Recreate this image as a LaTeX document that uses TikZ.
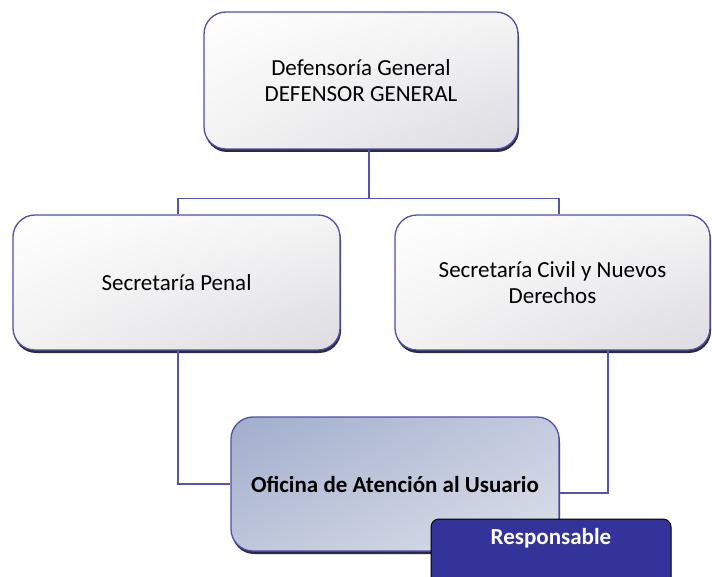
\documentclass[tikz,border=0pt]{standalone}
\usepackage{fontspec}
\setmainfont{Carlito}
\usetikzlibrary{shadows,shadings}

\definecolor{borde}{HTML}{4F4FAE}
\definecolor{linea}{HTML}{5454B4}
\definecolor{sombra}{HTML}{15152A}
\definecolor{resp}{HTML}{333399}

\begin{document}
\begin{tikzpicture}[
			x = 1pt, y = -1pt,
			caja/.style = {draw = borde, line width = 1.3pt, rounded corners = 22pt,
				align = center, font = \fontsize{23}{26}\selectfont,
				upper left = white, upper right = black!4!white,
				lower left = black!5!white, lower right = blue!18!black!14!white,
				drop shadow = {shadow xshift = 1pt, shadow yshift = -3pt, fill = sombra, opacity = .9}},
			oficina/.style = {caja, upper left = {rgb,255:red,160;green,173;blue,204},
				upper right = {rgb,255:red,196;green,203;blue,222},
				lower left = {rgb,255:red,190;green,198;blue,218},
				lower right = {rgb,255:red,220;green,224;blue,234},
				font = \fontsize{23}{26}\bfseries},
			etiqueta/.style = {draw = black, line width = 1pt, rounded corners = 8pt, fill = resp},
			conector/.style = {draw = linea, line width = 1.2pt}
			]

			\useasboundingbox (0,0) rectangle (712,577);

			% cajas
			\node[caja, minimum width = 314pt, minimum height = 137pt] (defensor) at (361,80.5)
				{Defensoría General\\DEFENSOR GENERAL};
			\node[caja, minimum width = 327pt, minimum height = 135pt] (penal) at (176.5,282.5)
				{Secretaría Penal};
			\node[caja, minimum width = 315pt, minimum height = 135pt] (civil) at (552.5,282.5)
				{Secretaría Civil y Nuevos\\Derechos};
			\node[oficina, minimum width = 328pt, minimum height = 134pt] (atencion) at (395,484)
				{Oficina de Atención al Usuario};

			% conectores
			\draw[conector] ([xshift = 8pt]defensor.south) -- ++(0,49) coordinate (bus);
			\draw[conector] ([xshift = 1.5pt]penal.north) |- (bus) -| ([xshift = 6.5pt]civil.north);
			\draw[conector] ([xshift = 1.5pt]penal.south) |- (atencion.west);
			\draw[conector] ([xshift = 55.5pt]civil.south) |- ([yshift = -9pt]atencion.east);

			\node[etiqueta, minimum width = 240pt, minimum height = 72pt,
				label = {[anchor = north, text = white, font = \fontsize{23}{26}\bfseries, yshift = -6pt]north:Responsable}]
				(responsable) at (551,555) {};

		\end{tikzpicture}
\end{document}
